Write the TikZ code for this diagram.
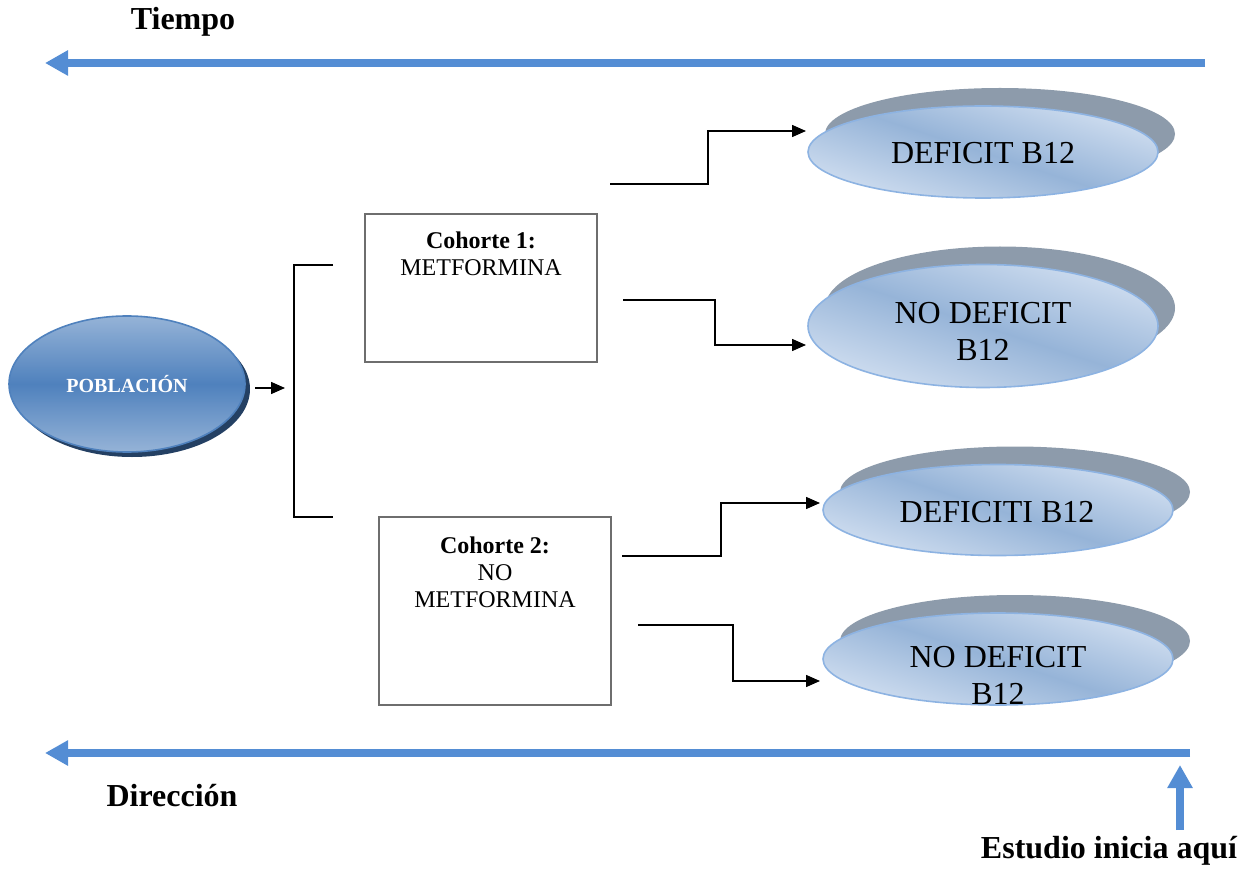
\documentclass[tikz,border=0pt]{standalone}
\usepackage{fontspec}
\setmainfont{Liberation Serif}
\usetikzlibrary{arrows.meta,shapes.geometric}
\definecolor{arrblue}{RGB}{84,141,212}
\definecolor{pobdark}{RGB}{79,129,189}
\definecolor{poblight}{RGB}{149,179,215}
\definecolor{pobshadow}{RGB}{36,64,99}
\definecolor{outlight}{RGB}{208,222,240}
\definecolor{outmid}{RGB}{150,180,216}
\definecolor{outborder}{RGB}{141,179,226}
\definecolor{outshadow}{RGB}{141,155,171}
\definecolor{boxgray}{RGB}{110,110,110}
\begin{document}
\begin{tikzpicture}[x=0.5pt,y=-0.5pt,
  bigarrow/.style={arrblue, line width=4pt, -{Triangle[length=11.5pt,width=12pt]}},
  conn/.style={black, line width=0.75pt, -{Triangle[length=7pt,width=6pt]}},
  cohortbox/.style={draw=boxgray, line width=1pt, minimum width=116pt, inner sep=0pt},
  outcome/.style={ellipse, draw=outborder, line width=0.8pt, inner sep=0pt, minimum width=175pt, top color=outlight, bottom color=outlight, middle color=outmid, shading angle=-18},
  outshade/.style={fill=outshadow},
  outtext/.style={font=\fontsize{16}{18.5}\selectfont, align=center, inner sep=0pt},
  titletext/.style={font=\fontsize{16}{19}\selectfont\bfseries, inner sep=0pt},
  cohtext/.style={font=\fontsize{12}{13.5}\selectfont, align=center, inner sep=0pt},
]
\useasboundingbox (0,0) rectangle (1251,871);

% time / direction arrows
\coordinate (t0) at (1205,63);
\coordinate (t1) at (45,63);
\draw[bigarrow] (t0) -- (t1);
\coordinate (d0) at (1190,753);
\coordinate (d1) at (45,753);
\draw[bigarrow] (d0) -- (d1);
\coordinate (u0) at (1180,830);
\coordinate (u1) at (1180,765);
\draw[bigarrow] (u0) -- (u1);

\node[titletext] (tiempo) at (183,22) {Tiempo};
\node[titletext] (direccion) at (172,796) {Dirección};
\node[titletext] (estudio) at (1109,851) {Estudio inicia aquí};

% poblacion
\fill[pobshadow] (132,389) ellipse [x radius=118, y radius=68];
\node[ellipse, minimum width=118pt, minimum height=68pt, inner sep=0pt, draw=pobdark, line width=0.8pt,
  top color=poblight, bottom color=poblight, middle color=pobdark,
  text=white, font=\fontsize{10}{12}\selectfont\bfseries] (pob) at (127,384) {POBLACIÓN};

\coordinate (pa) at (255,388);
\coordinate (pb) at (285,388);
\draw[conn] (pa) -- (pb);

% bracket
\coordinate (bt) at (333,265);
\coordinate (bb) at (333,517);
\draw[line width=0.75pt] (bt) -- (294,265) -- (294,517) -- (bb);

% cohort boxes
\node[cohortbox, minimum height=74pt] (box1) at (481,288) {};
\node[cohtext] (c1) at (481,254) {\textbf{Cohorte 1:}\\METFORMINA};
\node[cohortbox, minimum height=94pt] (box2) at (495,611) {};
\node[cohtext] (c2) at (495,572) {\textbf{Cohorte 2:}\\NO\\METFORMINA};

% outcome ellipses (shadow = front shifted up-right)
\fill[outshade] (1000,134) ellipse [x radius=175, y radius=46];
\node[outcome, minimum height=46pt] (o1) at (983,152) {};
\node[outtext] (o1t) at (983,153) {DEFICIT B12};

\fill[outshade] (1000,308) ellipse [x radius=175, y radius=61.5];
\node[outcome, minimum height=61.5pt] (o2) at (983,326) {};
\node[outtext] (o2t) at (983,331) {NO DEFICIT\\B12};

\fill[outshade] (1015,492) ellipse [x radius=175, y radius=45.5];
\node[outcome, minimum height=45.5pt] (o3) at (998,510) {};
\node[outtext] (o3t) at (997,512) {DEFICITI B12};

\fill[outshade] (1015,641) ellipse [x radius=175, y radius=46];
\node[outcome, minimum height=46pt] (o4) at (998,659) {};
\node[outtext] (o4t) at (998,675) {NO DEFICIT\\B12};

% connectors
\coordinate (s1) at (610,184);
\coordinate (e1) at (806,131);
\draw[conn] (s1) -- (708,184) -- (708,131) -- (e1);
\coordinate (s2) at (623,300);
\coordinate (e2) at (806,345);
\draw[conn] (s2) -- (715,300) -- (715,345) -- (e2);
\coordinate (s3) at (622,556);
\coordinate (e3) at (820,503);
\draw[conn] (s3) -- (721,556) -- (721,503) -- (e3);
\coordinate (s4) at (638,625);
\coordinate (e4) at (820,681);
\draw[conn] (s4) -- (733,625) -- (733,681) -- (e4);
\end{tikzpicture}
\end{document}
